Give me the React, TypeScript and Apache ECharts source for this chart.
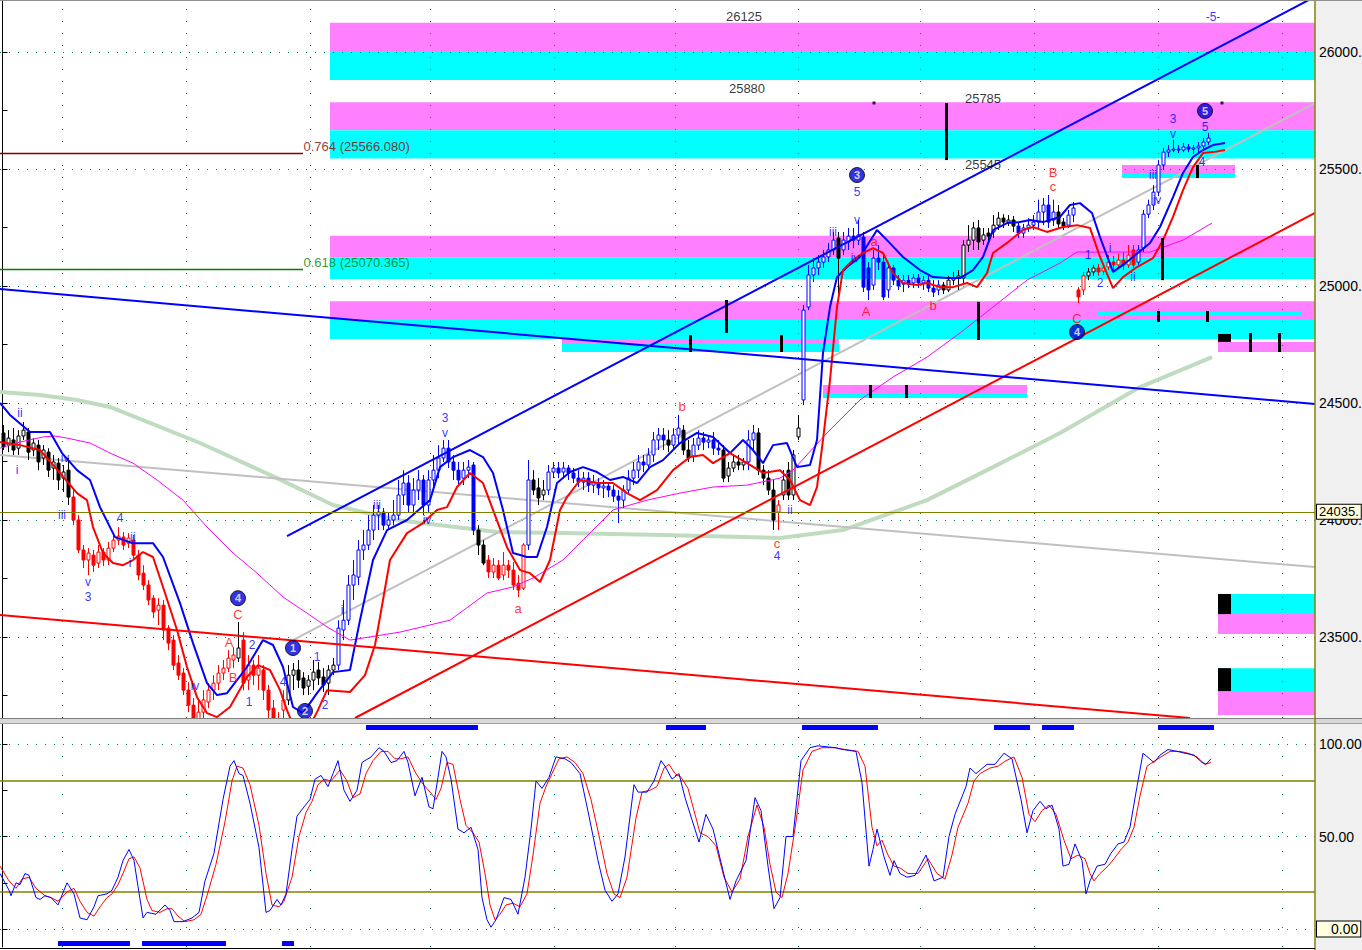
import React, { useEffect, useRef } from "react";
import * as echarts from "echarts";

const Y_MIN = 23154, Y_MAX = 26222;
const S_MIN = -9.7, S_MAX = 110.8;
const X_MIN = -0.5, X_MAX = 262.5;

const priceLabels = [23500, 24000, 24500, 25000, 25500, 26000];
const priceTicks = [23250, 23500, 23750, 24000, 24250, 24500, 24750, 25000, 25250, 25500, 25750, 26000];
const stochLabels = [50, 100];
const stochTicks = [0, 25, 50, 75, 100];
const lastPrice = 24035;
const lastStoch = 0;
const timeGridBars = [11.9, 36.7, 61.5, 85.5, 110.3, 134.5, 159.1, 183.5, 206.3, 231.1, 255.9];

// [open, close, low, high]
const candles = [
[24372,24312,24299,24406],[24320,24350,24290,24384],[24342,24299,24278,24393],[24307,24359,24278,24384],[24359,24384,24342,24419],
[24376,24290,24256,24393],[24299,24329,24273,24350],[24320,24248,24213,24342],[24265,24299,24235,24320],[24290,24213,24184,24307],
[24222,24248,24171,24278],[24243,24171,24128,24265],[24179,24205,24120,24235],[24213,24098,24064,24265],[24098,24000,23978,24128],
[24000,23872,23859,24021],[23872,23829,23795,23893],[23829,23859,23765,23880],[23850,23807,23778,23872],[23816,23863,23795,23893],
[23863,23829,23803,23880],[23829,23880,23807,23906],[23880,23914,23863,23936],[23914,23931,23893,23970],[23927,23893,23872,23949],
[23901,23923,23880,23944],[23914,23850,23829,23936],[23850,23765,23743,23872],[23773,23722,23701,23807],[23722,23658,23636,23743],
[23666,23607,23581,23679],[23615,23636,23551,23666],[23636,23530,23487,23658],[23538,23474,23444,23551],[23487,23380,23359,23508],
[23389,23337,23316,23423],[23346,23273,23252,23367],[23273,23209,23179,23307],[23209,23124,23081,23239],[23137,23179,23102,23231],
[23179,23231,23154,23273],[23222,23273,23196,23303],[23273,23303,23231,23337],[23303,23346,23273,23380],[23346,23367,23316,23402],
[23367,23410,23350,23444],[23402,23423,23367,23457],[23410,23453,23393,23564],[23487,23303,23273,23521],[23316,23380,23273,23423],
[23380,23337,23295,23402],[23337,23367,23273,23423],[23359,23273,23231,23380],[23273,23188,23145,23295],[23196,23124,23081,23231],
[23132,23081,23038,23179],[23188,23231,23145,23273],[23231,23337,23209,23380],[23337,23359,23273,23389],[23359,23316,23282,23402],
[23325,23282,23252,23350],[23290,23316,23252,23337],[23316,23350,23273,23402],[23359,23325,23295,23393],[23329,23295,23265,23367],
[23303,23359,23252,23380],[23359,23380,23337,23410],[23380,23538,23359,23572],[23530,23572,23487,23658],[23572,23722,23551,23765],
[23722,23765,23658,23829],[23756,23872,23722,23914],[23872,23893,23829,23957],[23893,23957,23872,24021],[23957,24021,23914,24064],
[24021,24034,23957,24064],[24034,23978,23957,24051],[23978,24000,23957,24034],[24000,24021,23978,24085],[24021,24107,24000,24171],
[24107,24158,24064,24213],[24158,24064,24034,24192],[24064,24128,24034,24179],[24128,24171,24085,24213],[24171,24064,24021,24192],
[24064,24171,24034,24213],[24171,24213,24137,24278],[24213,24265,24179,24320],[24265,24307,24248,24342],[24307,24248,24222,24342],
[24248,24213,24171,24278],[24213,24171,24149,24248],[24179,24213,24149,24248],[24213,24226,24179,24256],[24235,23957,23936,24248],
[23957,23893,23850,23978],[23893,23816,23807,23914],[23829,23778,23752,23850],[23778,23807,23752,23837],[23807,23752,23743,23829],
[23765,23807,23743,23863],[23807,23786,23752,23829],[23786,23722,23701,23820],[23730,23701,23671,23765],[23709,23893,23701,23901],
[23893,24171,23872,24256],[24171,24128,24107,24213],[24137,24094,24064,24179],[24107,24128,24085,24171],[24128,24205,24107,24235],
[24205,24222,24179,24248],[24222,24201,24179,24248],[24205,24222,24179,24248],[24222,24201,24171,24235],[24201,24179,24158,24222],
[24179,24162,24141,24213],[24162,24179,24128,24205],[24179,24149,24120,24205],[24149,24162,24115,24192],[24158,24137,24107,24179],
[24137,24145,24094,24171],[24145,24128,24098,24162],[24128,24102,24077,24149],[24102,24085,23987,24128],[24085,24128,24051,24149],
[24128,24179,24107,24213],[24179,24213,24149,24248],[24213,24248,24179,24278],[24248,24235,24205,24278],[24235,24278,24213,24307],
[24278,24342,24248,24376],[24342,24363,24299,24393],[24363,24342,24299,24393],[24342,24320,24290,24384],[24320,24363,24299,24393],
[24363,24393,24320,24449],[24384,24299,24278,24406],[24299,24265,24248,24342],[24273,24320,24248,24350],[24320,24350,24299,24384],
[24350,24333,24299,24376],[24333,24342,24307,24363],[24342,24307,24278,24376],[24307,24299,24278,24342],[24299,24179,24162,24320],
[24188,24222,24162,24248],[24222,24248,24205,24278],[24248,24235,24213,24278],[24235,24248,24213,24265],[24248,24342,24213,24384],
[24342,24372,24299,24406],[24372,24213,24192,24393],[24213,24179,24149,24235],[24179,24128,24107,24213],[24128,24000,23957,24171],
[24034,24064,23957,24085],[24107,24171,24085,24213],[24213,24107,24085,24248],[24107,24278,24085,24299],[24355,24393,24342,24449],
[24513,24897,24491,24919],[24910,25047,24897,25090],[25047,25077,25017,25119],[25077,25102,25047,25132],[25102,25124,25077,25154],
[25124,25154,25102,25184],[25154,25196,25132,25231],[25205,25119,24940,25231],[25154,25196,25132,25231],[25188,25213,25154,25248],
[25213,25196,25162,25248],[25196,25218,25175,25282],[25209,24995,24974,25231],[25077,24983,24940,25102],[25004,25119,24983,25154],
[25119,25102,25068,25175],[25102,24953,24940,25132],[24983,25077,24949,25102],[25077,25025,25004,25090],[25025,25000,24983,25047],
[25008,25025,24974,25047],[25025,25008,24991,25047],[25013,25034,24991,25051],[25034,25013,24991,25051],[25013,25025,24983,25043],
[25025,24991,24974,25043],[24991,24974,24953,25025],[24983,25004,24961,25025],[25004,24983,24966,25017],[24983,25025,24974,25043],
[25025,25034,25004,25060],[25034,25043,24983,25068],[25034,25175,25013,25196],[25175,25196,25145,25260],[25196,25248,25154,25273],
[25248,25188,25154,25282],[25196,25218,25175,25248],[25226,25213,25188,25248],[25231,25260,25205,25303],[25260,25290,25239,25316],
[25290,25273,25248,25307],[25273,25282,25256,25303],[25282,25256,25231,25299],[25256,25226,25205,25273],[25226,25248,25205,25265],
[25248,25260,25231,25290],[25260,25273,25239,25303],[25273,25316,25248,25369],[25316,25346,25260,25376],[25346,25273,25248,25389],
[25282,25316,25256,25369],[25316,25265,25248,25346],[25273,25256,25239,25290],[25260,25303,25248,25325],[25303,25333,25273,25359],
[24983,24953,24927,24995],[24983,25043,24961,25060],[25043,25060,25025,25077],[25060,25077,25043,25090],[25077,25060,25043,25094],
[25064,25077,25047,25094],[25081,25102,25068,25132],[25102,25090,25068,25128],[25090,25111,25077,25137],[25111,25090,25068,25145],
[25090,25132,25077,25175],[25154,25090,25077,25175],[25102,25154,25090,25175],[25162,25307,25145,25325],[25307,25346,25290,25369],
[25346,25401,25325,25431],[25401,25517,25384,25538],[25517,25572,25495,25590],[25572,25581,25551,25602],[25581,25585,25572,25624],
[25585,25581,25568,25602],[25581,25594,25572,25611],[25594,25585,25572,25607],[25585,25590,25564,25602],[25590,25598,25572,25615],
[25598,25615,25581,25632],[25615,25632,25602,25654]
];

// trend colour of the candles: [first bar, last bar, k=black r=red b=blue]
const colorRuns: [number, number, string][] = [
[0,13,"k"],[14,46,"r"],[47,47,"k"],[48,56,"r"],[57,66,"k"],[67,94,"b"],[95,96,"k"],[97,104,"r"],[105,105,"b"],
[106,108,"k"],[109,132,"b"],[133,133,"k"],[134,135,"b"],[136,137,"k"],[138,143,"b"],[144,148,"k"],[149,150,"b"],
[151,154,"k"],[155,155,"r"],[156,159,"k"],[160,166,"b"],[167,167,"k"],[168,187,"b"],[188,202,"k"],[203,210,"b"],
[211,212,"k"],[213,214,"b"],[215,216,"r"],[217,218,"k"],[219,226,"r"],[227,241,"b"]
];

// [bar, value]
const upperBand = [
[-0.5,24500],[1.5,24449],[5.5,24376],[9.5,24376],[11.9,24286],[14.9,24213],[17.5,24171],[19.5,24055],[22.5,23927],[26.1,23901],
[30.1,23901],[32.1,23842],[35.5,23645],[38.1,23474],[40.9,23303],[42.9,23252],[44.9,23260],[48.9,23372],[52.1,23487],[54.1,23466],
[56.1,23372],[58.1,23201],[60.1,23175],[62.9,23260],[64.9,23316],[66.1,23350],[69.5,23359],[71.5,23572],[74.1,23829],[76.9,23957],
[80.9,24000],[85.5,24085],[87.5,24226],[90.1,24269],[93.5,24299],[96.1,24269],[98.1,24201],[100.1,24043],[102.1,23859],[104.9,23842],
[106.9,23842],[108.9,23970],[110.9,24158],[113.5,24205],[116.1,24226],[118.9,24205],[121.5,24171],[124.1,24184],[126.9,24158],[129.5,24226],
[132.1,24256],[135.5,24329],[138.9,24372],[142.1,24355],[145.5,24286],[148.1,24342],[150.1,24299],[152.1,24243],[154.1,24320],[156.9,24329],
[158.9,24226],[161.5,24235],[162.9,24342],[164.1,24714],[165.5,24910],[166.9,25038],[168.9,25081],[171.5,25124],[174.9,25239],[176.9,25196],
[180.1,25124],[183.5,25068],[186.1,25038],[188.9,25034],[191.5,25034],[194.1,25068],[196.1,25124],[198.1,25239],[200.9,25269],[203.5,25273],
[205.5,25282],[208.1,25273],[211.5,25295],[213.5,25346],[215.5,25354],[217.9,25312],[219.5,25209],[222.1,25060],[224.1,25090],[226.1,25124],
[229.5,25184],[231.5,25252],[234.1,25380],[236.1,25483],[238.1,25551],[240.1,25581],[242.1,25602],[244.5,25611]
];
const lowerBand = [
[-0.5,24333],[3.5,24320],[7.5,24299],[10.5,24226],[14.9,24115],[16.9,24085],[18.1,23970],[20.1,23859],[22.1,23816],[24.1,23807],
[26.1,23829],[28.1,23863],[30.1,23842],[32.1,23714],[34.9,23530],[36.9,23372],[38.9,23243],[40.9,23175],[42.9,23158],[45.5,23201],
[48.9,23329],[51.1,23380],[53.5,23359],[55.5,23273],[56.9,23188],[58.1,23124],[60.5,23081],[62.9,23179],[64.9,23273],[69.5,23265],
[72.5,23337],[74.5,23466],[75.5,23585],[77.5,23829],[80.9,23944],[84.1,23987],[86.9,24043],[88.9,24055],[90.9,24141],[93.5,24201],
[96.1,24158],[98.1,24043],[100.9,23884],[103.5,23786],[105.5,23773],[107.5,23735],[109.5,23829],[111.5,24043],[112.9,24098],[115.5,24171],
[118.9,24158],[122.1,24158],[124.9,24115],[127.5,24085],[130.9,24128],[134.1,24213],[137.5,24269],[140.1,24278],[142.1,24243],[145.5,24286],
[148.9,24243],[152.1,24201],[155.5,24213],[157.5,24171],[159.5,24085],[161.5,24064],[162.9,24141],[164.1,24342],[165.5,24598],[166.9,24910],
[168.1,25068],[170.1,25111],[172.1,25141],[174.1,25162],[176.1,25141],[178.1,25055],[180.1,25013],[182.9,25004],[184.9,25013],[187.5,24995],
[190.1,24995],[192.9,25013],[194.9,24995],[196.9,25055],[198.1,25141],[200.9,25184],[204.1,25239],[206.1,25252],[208.9,25231],[212.1,25252],
[214.9,25260],[217.5,25248],[219.5,25124],[222.1,24991],[224.1,25038],[226.9,25081],[230.1,25119],[232.1,25196],[234.1,25295],[236.1,25410],
[238.1,25508],[240.1,25568],[242.1,25572],[244.5,25581]
];
const fastMA = [
[-0.5,24307],[3.5,24333],[8.1,24355],[10.5,24359],[12.9,24350],[17.5,24329],[21.5,24286],[26.1,24243],[30.9,24171],[36.1,24085],
[40.9,23970],[46.1,23859],[50.9,23773],[56.1,23671],[60.9,23602],[64.9,23543],[69.5,23487],[79.5,23521],[89.5,23572],[96.9,23688],
[102.1,23714],[106.1,23752],[112.1,23829],[116.1,23914],[122.1,24043],[128.9,24085],[135.5,24115],[142.1,24141],[148.9,24149],[155.5,24179],
[158.1,24213],[164.9,24372],[171.5,24513],[178.1,24611],[184.9,24696],[191.5,24799],[198.1,24910],[204.9,25025],[211.5,25098],[214.9,25145],
[229.5,25145],[236.1,25196],[241.9,25269]
];
const slowMA = [
[-0.5,24547],[7.5,24534],[14.9,24513],[21.5,24483],[39.5,24329],[54.9,24179],[66.1,24064],[78.9,24000],[98.9,23949],[112.1,23944],
[132.1,23936],[155.5,23923],[168.1,23957],[184.9,24085],[198.1,24226],[211.5,24372],[227.5,24568],[241.9,24696]
];
const trendLines = [
  { color: "#0000ff", width: 2, pts: [[56.9, 23931], [262.5, 26236]] },
  { color: "#ff0000", width: 2, pts: [[70.5, 23154], [262.5, 25312]] },
  { color: "#0000ff", width: 2, pts: [[-0.5, 24987], [262.5, 24496]] },
  { color: "#ff0000", width: 2, pts: [[-0.5, 23594], [237.5, 23154]] },
];
const greyLines = [
  [[-0.5, 24278], [262.5, 23799]],
  [[58.1, 23487], [262.5, 25782]],
];
const fibLevels = [
  { text: "0.764 (25566.080)", value: 25566.08, color: "#800000", from: -0.5, to: 60.1 },
  { text: "0.618 (25070.365)", value: 25070.365, color: "#008000", from: -0.5, to: 60.1 },
];
// [x1, x2, pinkTop, pinkBottom/cyanTop, cyanBottom]
const pinkOverCyan = [
  [65.5, 262.5, 26125, 26000, 25880],
  [65.5, 262.5, 25785, 25665, 25545],
  [65.5, 262.5, 25215, 25122, 25030],
  [65.5, 262.5, 24935, 24855, 24773],
  [111.9, 167.3, 24773, 24756, 24718],
  [164.1, 204.9, 24577, 24543, 24521],
  [223.9, 246.5, 25517, 25483, 25461],
];
// [x1, x2, cyanTop, cyanBottom/pinkTop, pinkBottom]
const cyanOverPink = [
  [243.1, 262.5, 23684, 23598, 23513],
  [243.1, 262.5, 23367, 23269, 23167],
];
const extraPink = [[243.1, 262.5, 24761, 24718]];
const extraCyan = [[219.1, 259.9, 24893, 24872]];
const blackBoxes = [[243.1, 245.7, 24795, 24761], [243.1, 245.7, 23684, 23598], [243.1, 245.7, 23367, 23269]];
// [bar, top value, bottom value]
const markerBars = [
  [188.7, 25782, 25538], [144.7, 24940, 24799], [137.5, 24790, 24718], [155.7, 24790, 24718],
  [173.5, 24577, 24521], [180.7, 24577, 24521], [195.1, 24932, 24769], [231.1, 24893, 24846],
  [240.9, 24893, 24846], [249.5, 24799, 24718], [255.3, 24799, 24718], [231.9, 25205, 25025],
  [238.9, 25517, 25461],
];
const markerDots = [[174.3, 25782], [243.9, 25782]];

const blueLabels: [number, number, string][] = [
[3.5,24457,"ii"],[2.9,24213,"i"],[11.9,24021,"iii"],[12.5,24265,"iv"],[17.1,23737,"v"],[17.1,23671,"3"],[23.5,24009,"4"],
[26.1,23927,"ii"],[25.5,23816,"i"],[38.5,23290,"iv"],[49.3,23222,"1"],[49.9,23466,"2"],[56.1,23307,"4"],[62.9,23414,"1"],
[64.5,23209,"2"],[67.9,23615,"i"],[74.9,24064,"iii"],[84.9,24000,"iv"],[88.5,24370,"v"],[88.5,24436,"3"],[157.5,24043,"ii"],
[154.9,23846,"4"],[166.1,25231,"iii"],[170.9,25282,"v"],[170.9,25402,"5"],[170.5,25120,"iv"],[217.1,25132,"1"],[219.5,25013,"2"],
[221.5,25162,"i"],[226.1,25038,"ii"],[230.1,25474,"iii"],[230.9,25367,"iv"],[234.1,25648,"v"],[234.1,25712,"3"],[240.5,25680,"5"],
[239.9,25530,"4"],[242.1,26150,"-5-"]
];
const redLabels: [number, number, string][] = [
[47.1,23598,"C"],[45.3,23478,"A"],[46.1,23329,"B"],[103.1,23624,"a"],[135.9,24483,"b"],[154.9,23901,"c"],[172.7,24889,"A"],
[174.3,25188,"a"],[186.1,24915,"b"],[210.1,25487,"B"],[210.1,25423,"c"],[214.9,24863,"C"]
];
const circledLabels: [number, number, string][] = [
[47.1,23666,"4"],[58.1,23453,"1"],[60.5,23184,"2"],[170.9,25474,"3"],[214.9,24803,"4"],[240.5,25748,"5"]
];
const zoneLabels: [number, number, string][] = [
[148.3,26150,"26125"],[148.9,25842,"25880"],[196.1,25803,"25785"],[196.1,25517,"25545"]
];

const stochK = [[-0.5,30],[1.3,21],[1.7,18],[2.7,25],[3.5,24],[4.5,30],[5.3,29],[6.7,17],[7.5,16],[8.5,18],[9.7,17],[11.1,13],[12.9,25],[14.3,19],[15.5,6],[16.9,5],[18.3,12],[19.1,18],[20.9,19],[21.9,21],[23.1,28],[24.1,37],[25.3,43],[26.3,37],[27.1,23],[28.1,6],[28.9,9],[30.7,8],[32.5,13],[33.5,10],[34.3,4],[36.1,4],[37.9,6],[39.3,9],[40.5,26],[42.3,41],[44.1,70],[45.5,88],[46.3,91],[47.3,84],[48.1,83],[49.5,68],[51.3,44],[52.7,9],[53.5,10],[54.9,16],[55.7,13],[56.7,19],[57.9,43],[58.9,61],[60.3,66],[61.5,70],[62.5,81],[63.7,83],[65.1,77],[66.1,84],[67.1,91],[68.3,75],[69.5,69],[70.9,75],[71.9,90],[73.7,93],[75.3,98],[76.3,96],[77.7,90],[78.9,91],[80.3,96],[81.1,90],[82.5,72],[83.9,82],[85.3,66],[86.1,65],[87.1,82],[87.9,96],[88.7,93],[89.7,81],[91.1,54],[92.3,52],[93.7,55],[95.1,43],[95.9,17],[96.9,5],[97.7,1],[98.7,5],[100.3,17],[101.7,16],[103.1,8],[104.5,28],[105.7,54],[106.7,80],[107.9,76],[109.3,82],[110.7,93],[112.5,92],[113.7,90],[115.5,84],[117.3,61],[119.1,37],[120.5,21],[121.9,15],[123.1,19],[124.5,39],[126.3,78],[127.1,74],[128.9,74],[130.3,80],[131.7,91],[132.5,88],[133.9,81],[135.3,84],[136.5,71],[137.9,59],[139.3,47],[140.7,62],[142.1,54],[143.7,36],[145.5,16],[146.7,26],[148.7,37],[150.5,71],[151.7,64],[153.1,34],[154.3,11],[155.5,17],[156.7,50],[158.1,50],[159.7,91],[161.5,98],[163.1,99],[166.5,98],[168.1,97],[170.7,96],[171.9,79],[173.3,34],[174.1,43],[174.9,54],[176.3,39],[177.5,29],[178.3,37],[179.5,30],[180.9,28],[182.5,29],[184.7,40],[186.3,26],[188.1,28],[189.3,50],[190.5,62],[192.7,77],[193.5,87],[194.7,84],[196.9,89],[198.5,89],[200.3,95],[201.9,92],[203.7,70],[204.9,52],[206.1,64],[207.5,69],[208.7,65],[209.9,67],[211.3,54],[212.1,34],[213.3,35],[214.5,46],[215.9,37],[216.7,19],[217.5,26],[218.9,34],[220.5,35],[221.7,41],[223.1,46],[224.3,47],[225.5,55],[226.9,77],[228.1,95],[230.3,90],[231.5,94],[233.1,97],[234.9,96],[236.5,95],[238.3,94],[239.9,90],[240.7,89],[241.7,92]];
const stochD = [[-0.5,34],[1.3,26],[2.7,22],[3.9,27],[5.3,28],[6.7,22],[8.5,18],[9.7,17],[11.1,15],[12.9,20],[14.3,22],[15.5,15],[16.9,9],[18.3,7],[19.5,12],[20.9,17],[21.9,19],[23.1,24],[24.1,30],[25.3,38],[26.3,39],[27.5,33],[28.9,16],[29.9,10],[31.5,9],[32.9,11],[33.9,11],[35.1,7],[36.5,4],[38.3,5],[39.7,8],[40.9,18],[42.7,35],[44.5,58],[45.9,80],[46.9,88],[48.1,87],[49.5,78],[51.3,56],[52.7,30],[53.9,13],[55.3,12],[56.3,15],[57.9,28],[59.3,50],[60.7,63],[61.9,69],[63.1,78],[64.3,81],[65.7,80],[67.5,86],[68.9,80],[70.1,71],[71.5,73],[72.7,84],[74.1,91],[75.7,96],[77.1,96],[78.5,92],[79.7,92],[81.1,93],[82.5,85],[83.9,79],[85.5,74],[86.7,70],[87.7,76],[88.9,90],[90.1,89],[91.5,70],[92.7,56],[94.1,52],[95.3,47],[96.5,30],[97.5,13],[98.5,5],[99.5,8],[100.7,13],[102.1,14],[103.5,12],[104.9,19],[106.1,40],[107.5,68],[108.7,77],[109.9,84],[111.3,92],[112.9,93],[114.5,90],[116.1,84],[117.7,70],[119.5,48],[120.9,30],[122.3,19],[123.5,17],[124.9,28],[126.7,60],[127.9,74],[129.5,75],[130.9,77],[132.3,87],[133.3,89],[134.5,84],[135.7,82],[137.1,76],[138.5,62],[139.5,52],[141.1,50],[142.7,45],[144.3,28],[145.9,20],[147.5,27],[149.1,50],[150.9,67],[152.3,55],[153.5,35],[154.7,20],[155.9,17],[157.1,30],[158.7,58],[160.1,86],[161.9,96],[163.9,98],[166.5,98],[168.5,97],[171.1,96],[172.5,88],[173.9,55],[174.9,45],[175.9,48],[177.1,40],[178.3,34],[179.5,33],[181.1,30],[183.1,30],[185.1,38],[186.9,30],[188.5,27],[189.9,40],[191.1,55],[193.1,68],[194.3,80],[195.5,84],[197.5,87],[199.1,88],[200.7,91],[202.3,93],[203.9,82],[205.3,62],[206.5,58],[207.9,64],[209.3,67],[210.7,62],[212.3,48],[213.7,38],[215.1,40],[216.5,38],[217.5,30],[218.3,26],[219.5,30],[221.1,34],[222.3,38],[223.7,43],[225.1,47],[226.3,55],[227.5,72],[228.9,88],[230.5,91],[231.7,93],[233.5,96],[235.5,96],[237.1,95],[238.9,93],[240.5,89],[241.7,90]];
// blue strips at the top (overbought) and bottom (oversold) of the oscillator pane: [x1, x2]
const overboughtRuns = [[72.7, 95.1], [132.7, 140.7], [159.9, 175.1], [198.3, 205.5], [207.9, 214.3], [231.1, 242.3]];
const oversoldRuns = [[11.1, 25.5], [27.9, 44.7], [55.9, 58.3]];
const stochBands = [80, 20];
const stochDotted = [100, 50];

const FONT = "'Liberation Sans', Arial, sans-serif";
const PINK = "#ff80ff", CYAN = "#00ffff";
const TEAL = "#008080", OLIVE = "#808000";
const runColor: Record<string, string> = { k: "#000000", r: "#ff0000", b: "#0000ff" };

function colorOf(i: number) {
  for (const [a, b, c] of colorRuns) if (i >= a && i <= b) return runColor[c];
  return "#000000";
}
const area = (x1: number, x2: number, y1: number, y2: number, color: string) => [
  { xAxis: x1, yAxis: y1, itemStyle: { color, opacity: 1 } },
  { xAxis: x2, yAxis: y2 },
];
const host = (xi: number, yi: number, yv: number, extra: any) => ({
  type: "line", xAxisIndex: xi, yAxisIndex: yi, data: [[X_MIN, yv]], showSymbol: false, symbol: "none",
  lineStyle: { opacity: 0 }, silent: true, ...extra,
});
const overlay = (data: number[][], color: string, width: number, z: number) => ({
  type: "line", xAxisIndex: 0, yAxisIndex: 0, data, showSymbol: false, symbol: "none",
  lineStyle: { color, width }, z, silent: true,
});
const textSeries = (items: [number, number, string][], color: string, size: number) => ({
  type: "scatter", xAxisIndex: 0, yAxisIndex: 0, symbolSize: 1, itemStyle: { color: "rgba(0,0,0,0)" },
  data: items.map(([x, y, t]) => ({ value: [x, y], name: t })), z: 10, silent: true,
  label: { show: true, position: "inside", formatter: "{b}", color, fontSize: size, fontFamily: FONT },
});
const boxLabel = (text: string, padLeft: number, size: number) => ({
  show: true, position: "end", distance: 2, formatter: text, color: "#000", fontSize: size, fontFamily: FONT,
  backgroundColor: "#ffffe0", borderColor: "#000", borderWidth: 1, padding: [1, 2, 0, padLeft],
});

function renderCandle(params: any, api: any) {
  const i = api.value(0);
  const o = api.value(1), c = api.value(2), l = api.value(3), h = api.value(4);
  const pO = api.coord([i, o]), pC = api.coord([i, c]), pL = api.coord([i, l]), pH = api.coord([i, h]);
  const x = Math.round(pO[0]) + 0.5;
  const color = colorOf(params.dataIndex);
  const top = Math.min(pO[1], pC[1]);
  const bottom = Math.max(pO[1], pC[1], top + 1);
  return {
    type: "group",
    children: [
      { type: "line", shape: { x1: x, y1: pH[1], x2: x, y2: pL[1] }, style: { stroke: color, lineWidth: 1 } },
      {
        type: "rect", shape: { x: x - 1.5, y: top, width: 3, height: bottom - top },
        style: { fill: c > o ? "#ffffff" : color, stroke: color, lineWidth: 1 },
      },
    ],
  };
}

export default function App() {
  const ref = useRef<HTMLDivElement>(null);
  useEffect(() => {
    if (!ref.current) return;
    const chart = echarts.init(ref.current, null, { renderer: "svg" });
    const zonesData: any[] = [];
    pinkOverCyan.forEach(([x1, x2, a, b, c]) => { zonesData.push(area(x1, x2, a, b, PINK)); zonesData.push(area(x1, x2, b, c, CYAN)); });
    cyanOverPink.forEach(([x1, x2, a, b, c]) => { zonesData.push(area(x1, x2, a, b, CYAN)); zonesData.push(area(x1, x2, b, c, PINK)); });
    extraPink.forEach(([x1, x2, a, b]) => zonesData.push(area(x1, x2, a, b, PINK)));
    extraCyan.forEach(([x1, x2, a, b]) => zonesData.push(area(x1, x2, a, b, CYAN)));
    blackBoxes.forEach(([x1, x2, a, b]) => zonesData.push(area(x1, x2, a, b, "#000000")));

    const gridLines: any[] = [
      ...priceLabels.map((v) => ({ yAxis: v, lineStyle: { color: TEAL, width: 1, type: [1, 8] } })),
      ...timeGridBars.map((x) => ({ xAxis: x, lineStyle: { color: TEAL, width: 1, type: [1, 11] } })),
    ];
    const markerLines: any[] = [
      ...markerBars.map(([x, a, b]) => [{ coord: [x, a] }, { coord: [x, b] }]),
      { yAxis: lastPrice, lineStyle: { color: OLIVE, width: 1, type: "solid" }, label: boxLabel(`${lastPrice}.`, 2, 13) },
    ];

    const option: any = {
      animation: false,
      backgroundColor: "#ffffff",
      textStyle: { fontFamily: FONT },
      grid: [
        { left: 0, top: 0, width: 1315, height: 718, outerBoundsMode: "none", containLabel: false },
        { left: 0, top: 724, width: 1315, height: 223, outerBoundsMode: "none", containLabel: false },
      ],
      xAxis: [
        { type: "value", gridIndex: 0, min: X_MIN, max: X_MAX, show: false },
        { type: "value", gridIndex: 1, min: X_MIN, max: X_MAX, show: false },
      ],
      yAxis: [
        {
          type: "value", gridIndex: 0, position: "right", offset: 2, min: Y_MIN, max: Y_MAX, scale: true,
          axisLine: { show: true, lineStyle: { color: "#000", width: 1 } },
          axisTick: { show: true, length: 5, lineStyle: { color: "#000" }, customValues: priceTicks },
          axisLabel: { show: true, customValues: priceLabels, formatter: (v: number) => `${v}.`, color: "#000", fontSize: 14, fontFamily: FONT, margin: 2 },
          splitLine: { show: false },
        },
        {
          type: "value", gridIndex: 1, position: "right", offset: 2, min: S_MIN, max: S_MAX, scale: true,
          axisLine: { show: true, lineStyle: { color: "#000", width: 1 } },
          axisTick: { show: true, length: 5, lineStyle: { color: "#000" }, customValues: stochTicks },
          axisLabel: { show: true, customValues: stochLabels, formatter: (v: number) => v.toFixed(2), color: "#000", fontSize: 14, fontFamily: FONT, margin: 2 },
          splitLine: { show: false },
        },
      ],
      graphic: [
        { type: "rect", z: -10, shape: { x: 1316, y: 0, width: 46, height: 950 }, style: { fill: "#f0f0f0" } },
        { type: "rect", z: 50, shape: { x: 0, y: 718, width: 1362, height: 6 }, style: { fill: "#d8d8d8" } },
        { type: "line", z: 50, shape: { x1: 0, y1: 718.5, x2: 1362, y2: 718.5 }, style: { stroke: "#808080", lineWidth: 1 } },
        { type: "line", z: 50, shape: { x1: 0, y1: 723.5, x2: 1362, y2: 723.5 }, style: { stroke: "#a0a0a0", lineWidth: 1 } },
        { type: "line", z: 50, shape: { x1: 1315, y1: 0, x2: 1315, y2: 950 }, style: { stroke: OLIVE, lineWidth: 1.5 } },
        { type: "line", z: 50, shape: { x1: 0, y1: 0.5, x2: 1362, y2: 0.5 }, style: { stroke: "#909090", lineWidth: 1 } },
        { type: "line", z: 50, shape: { x1: 0, y1: 948.5, x2: 1315, y2: 948.5 }, style: { stroke: "#000", lineWidth: 1 } },
      ],
      series: [
        host(0, 0, Y_MIN, { markArea: { silent: true, z: 1, data: zonesData } }),
        host(0, 0, Y_MIN, { markLine: { silent: true, z: 1, symbol: ["none", "none"], label: { show: false }, data: gridLines } }),
        overlay(slowMA, "#c0dcc0", 4, 2),
        ...greyLines.map((pts) => overlay(pts, "#c0c0c0", 2, 2)),
        {
          type: "custom", xAxisIndex: 0, yAxisIndex: 0, z: 3, silent: true, clip: true,
          renderItem: renderCandle,
          encode: { x: 0, y: [1, 2, 3, 4] },
          data: candles.map((v, i) => [i, ...v]),
        },
        overlay(fastMA, "#ff00ff", 1, 4),
        overlay(upperBand, "#0000ff", 2, 4),
        overlay(lowerBand, "#ff0000", 2, 4),
        ...trendLines.map((t) => overlay(t.pts, t.color, t.width, 4)),
        ...fibLevels.map((f) => overlay([[f.from, f.value], [f.to, f.value]], f.color, 1.5, 4)),
        {
          type: "scatter", xAxisIndex: 0, yAxisIndex: 0, symbolSize: 1, itemStyle: { color: "rgba(0,0,0,0)" }, z: 10, silent: true,
          data: fibLevels.map((f) => ({ value: [f.to, f.value], name: f.text, label: { color: f.color } })),
          label: { show: true, position: "right", distance: 0, offset: [0, -7], formatter: "{b}", fontSize: 13, fontFamily: FONT },
        },
        host(0, 0, Y_MIN, {
          markLine: {
            silent: true, z: 6, symbol: ["none", "none"], label: { show: false },
            lineStyle: { color: "#000", width: 3, type: "solid" }, data: markerLines,
          },
        }),
        {
          type: "scatter", xAxisIndex: 0, yAxisIndex: 0, symbol: "rect", symbolSize: 3, itemStyle: { color: "#000" },
          data: markerDots, z: 6, silent: true,
        },
        textSeries(blueLabels, "#0000ff", 12),
        textSeries(redLabels, "#ff0000", 13),
        textSeries(zoneLabels, "#000000", 13),
        {
          type: "scatter", xAxisIndex: 0, yAxisIndex: 0, symbol: "circle", symbolSize: 15, z: 11, silent: true,
          itemStyle: { color: "#0000d8", borderColor: "#000", borderWidth: 1 },
          data: circledLabels.map(([x, y, t]) => ({ value: [x, y], name: t })),
          label: { show: true, position: "inside", formatter: "{b}", color: "#fff", fontWeight: "bold", fontSize: 11, fontFamily: FONT },
        },
        // oscillator pane
        host(1, 1, S_MIN, {
          markLine: {
            silent: true, z: 6, symbol: ["none", "none"], label: { show: false },
            data: [
              ...stochDotted.map((v) => ({ yAxis: v, lineStyle: { color: TEAL, width: 1, type: [1, 8] } })),
              ...timeGridBars.map((x) => ({ xAxis: x, lineStyle: { color: TEAL, width: 1, type: [1, 18] } })),
              ...stochBands.map((v) => ({ yAxis: v, lineStyle: { color: OLIVE, width: 1.5, type: "solid" } })),
              { yAxis: lastStoch, lineStyle: { color: TEAL, width: 1, type: [1, 8] }, label: boxLabel(lastStoch.toFixed(2), 14, 14) },
            ],
          },
          markArea: {
            silent: true, z: 1,
            data: [
              ...overboughtRuns.map(([a, b]) => area(a, b, 110.26, 107.56, "#0000ff")),
              ...oversoldRuns.map(([a, b]) => area(a, b, -6.47, -9.17, "#0000ff")),
            ],
          },
        }),
        {
          type: "line", xAxisIndex: 1, yAxisIndex: 1, data: stochD, showSymbol: false, symbol: "none",
          lineStyle: { color: "#ff0000", width: 1 }, z: 7, silent: true,
        },
        {
          type: "line", xAxisIndex: 1, yAxisIndex: 1, data: stochK, showSymbol: false, symbol: "none",
          lineStyle: { color: "#0000ff", width: 1 }, z: 7, silent: true,
        },
      ],
    };
    chart.setOption(option);
    return () => chart.dispose();
  }, []);
  return <div ref={ref} style={{ position: "absolute", left: 0, top: 0, width: 1362, height: 950, background: "#fff" }} />;
}
